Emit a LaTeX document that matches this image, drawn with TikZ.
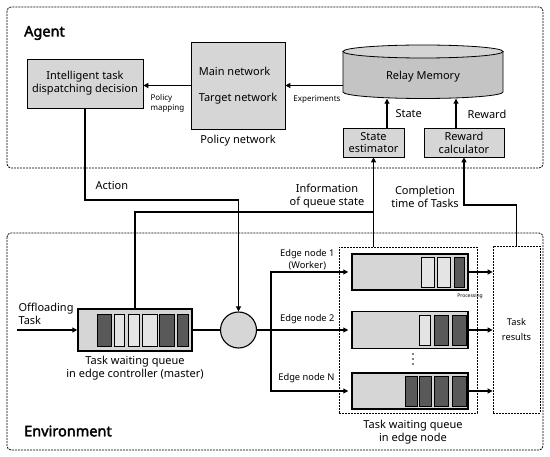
\documentclass[tikz,border=0pt]{standalone}
\usepackage{fontspec}
\setmainfont{Noto Sans}[AutoFakeBold=2.5]
\usetikzlibrary{arrows.meta}
\definecolor{boxg}{HTML}{D6D6D6}
\definecolor{cylg}{HTML}{C4C4C4}
\definecolor{cylt}{HTML}{D4D4D4}
\definecolor{darkc}{HTML}{595959}
\definecolor{lightc}{HTML}{E4E4E4}
\newcommand\fmain{\fontsize{11}{12.8}\selectfont}
\newcommand\fedge{\fontsize{9.3}{11.5}\selectfont}
\newcommand\fsmall{\fontsize{8}{10}\selectfont}
\newcommand\ftiny{\fontsize{5}{6}\selectfont}
\newcommand\ftitle{\fontsize{14.5}{17}\selectfont\bfseries}
\begin{document}
\begin{tikzpicture}[x=1pt,y=-1pt,
  conn/.style={line width=1.1pt},
  arr/.style={conn,-{Triangle[length=5pt,width=5pt]}},
  box/.style={draw, fill=boxg, line width=0.7pt, inner sep=0pt, align=center, font=\fmain},
  qbox/.style={draw, fill=boxg, line width=1.5pt, inner sep=0pt},
  region/.style={draw, line width=0.8pt, dash pattern=on 2pt off 1pt, rounded corners=4pt},
  grpbox/.style={draw, line width=0.8pt, dash pattern=on 2pt off 1pt, inner sep=0pt},
  cellD/.style={draw, fill=darkc, line width=0.8pt},
  cellL/.style={draw, fill=lightc, line width=0.8pt},
  dot/.style={circle, fill=black, inner sep=0pt, minimum size=1.6pt}]
\useasboundingbox (0,0) rectangle (550,457);

% regions
\draw[region] (7,7) rectangle (543,168);
\draw[region] (7,233) rectangle (543,450);
\node[font=\ftitle, anchor=west, inner sep=0] (agentlbl) at (24,33) {Agent};
\node[font=\ftitle, anchor=west, inner sep=0] (envlbl) at (24,431) {Environment};

% agent
\node[box, minimum width=116pt, minimum height=49pt] (dec) at (85,83.5) {Intelligent task\\dispatching decision};
\node[box, minimum width=94pt, minimum height=87pt, align=left] (pol) at (238,85.5) {Main network\\[13pt]Target network};
\node[font=\fmain] (polname) at (238,141) {Policy network};

\node[minimum width=160pt, minimum height=53.5pt, inner sep=0pt] (mem) at (423,71.75) {};
\draw[line width=0.8pt, fill=cylg] (343,51.5) -- (343,92) arc[start angle=180, end angle=0, x radius=80, y radius=6.5] -- (503,51.5) -- cycle;
\draw[line width=0.8pt, fill=cylt] (423,51.5) ellipse [x radius=80, y radius=6.5];
\node[font=\fmain] (memlbl) at (423,77) {Relay Memory};

\node[box, minimum width=61pt, minimum height=29pt] (se) at (373.5,142.5) {State\\estimator};
\node[box, minimum width=80pt, minimum height=29pt] (rc) at (464,142.5) {Reward\\calculator};

\draw[arr] (mem.west |- pol.east) -- (pol.east);
\node[font=\fsmall, anchor=north] (exp) at (317,92) {Experiments};
\draw[arr] (pol.west) -- (pol.west -| dec.east);
\node[font=\fsmall, align=left, anchor=north west] (pmap) at (147,91) {Policy\\mapping};

\draw[arr] ([xshift=13.5pt]se.north) -- ([xshift=13.5pt]se.north |- mem.south);
\node[font=\fmain, anchor=west] (statel) at (392,114) {State};
\draw[arr] ([xshift=-8pt]rc.north) -- ([xshift=-8pt]rc.north |- mem.south);
\node[font=\fmain, anchor=west] (rewl) at (464,114) {Reward};

% environment
\node[qbox, minimum width=114pt, minimum height=42pt] (mq) at (135,330) {};
\draw[cellD] (97,314) rectangle (111,346);
\draw[cellL] (114,314) rectangle (124,346);
\draw[cellL] (128,314) rectangle (139,346);
\draw[cellL] (142,314) rectangle (157,346);
\draw[cellD] (159,314) rectangle (174,346);
\draw[cellD] (177,314) rectangle (188,346);
\node[font=\fmain, align=center] (mql) at (135,368.5) {Task waiting queue\\in edge controller (master)};

\coordinate (off) at (17,330);
\draw[arr] (off) -- (mq.west);
\node[font=\fmain, align=left, anchor=west] (offl) at (15,313.5) {Offloading\\Task};

\node[circle, draw, fill=boxg, line width=1.1pt, minimum size=36pt, inner sep=0pt] (circ) at (238.5,330) {};
\draw[conn] (mq.east) -- (circ.west);
\coordinate (branch) at (271,330);
\draw[conn] (circ.east) -- (branch);

\node[grpbox, minimum width=138pt, minimum height=166pt] (grp) at (408,330) {};
\node[grpbox, minimum width=47pt, minimum height=167pt, font=\fedge, align=center] (res) at (516.5,329.5) {Task\\[3pt]results};

\node[qbox, minimum width=116pt, minimum height=36pt] (eq1) at (410,272) {};
\node[qbox, minimum width=116pt, minimum height=37pt] (eq2) at (410,330) {};
\node[qbox, minimum width=116pt, minimum height=36pt] (eqN) at (410,391) {};

\draw[cellL] (421,257) rectangle (434,287);
\draw[cellL] (437,257) rectangle (450,287);
\draw[cellD] (454,257) rectangle (464,287);

\draw[cellL] (419,315) rectangle (430,345);
\draw[cellD] (434,315) rectangle (448,345);
\draw[cellD] (452,315) rectangle (466,345);

\draw[cellD] (405,376) rectangle (417,406);
\draw[cellD] (419,376) rectangle (431,406);
\draw[cellD] (434,376) rectangle (448,406);
\draw[cellD] (452,376) rectangle (466,406);

\node[dot] (d1) at (413,354) {};
\node[dot] (d2) at (413,359) {};
\node[dot] (d3) at (413,364) {};

\draw[arr, shorten >=3pt] (branch) |- (eq1.west);
\draw[arr, shorten >=3pt] (branch) -- (eq2.west);
\draw[arr, shorten >=3pt] (branch) |- (eqN.west);

\node[font=\fedge, align=center, anchor=east] (e1l) at (338,259.5) {Edge node 1\\(Worker)};
\node[font=\fedge, anchor=east] (e2l) at (338,319) {Edge node 2};
\node[font=\fedge, anchor=east] (eNl) at (338,378) {Edge node N};

\draw[arr] (eq1.east) -- (eq1.east -| res.west);
\draw[arr] (eq2.east) -- (eq2.east -| res.west);
\draw[arr] (eqN.east) -- (eqN.east -| res.west);
\node[font=\ftiny] (procl) at (470,296) {Processing};

\node[font=\fmain, align=center] (grpl) at (413,432) {Task waiting queue\\in edge node};

% feedback connectors
\coordinate (actturn) at (0,200);
\draw[arr] (dec.south) |- (circ.north |- actturn) -- (circ.north);
\node[font=\fmain, anchor=west] (actl) at (92,186) {Action};

\coordinate (infoturn) at (0,212);
\draw[conn] (mq.north) |- (se.south |- infoturn);
\draw[arr] (se.south |- grp.north) -- (se.south);
\node[font=\fmain, align=center] (infol) at (327,196.5) {Information\\of queue state};

\coordinate (compturn) at (0,205);
\draw[arr] (res.north) |- (rc.south |- compturn) -- (rc.south);
\node[font=\fmain, align=center] (compl) at (425,197) {Completion\\time of Tasks};
\end{tikzpicture}
\end{document}
